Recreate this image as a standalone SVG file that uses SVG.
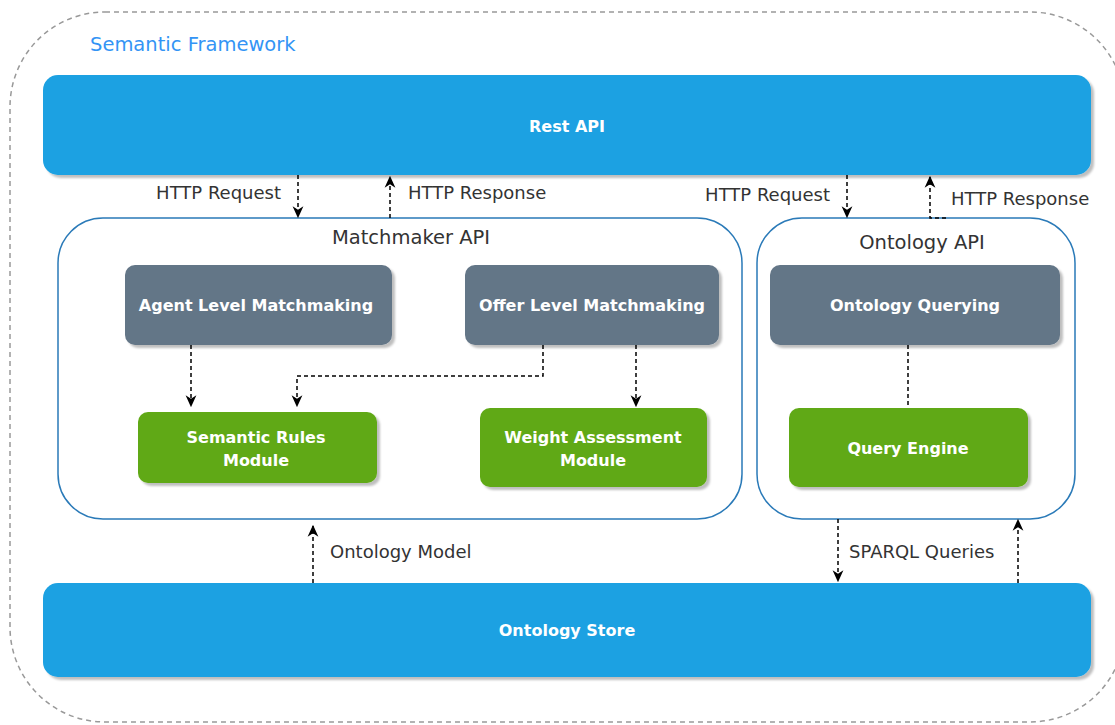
<svg xmlns="http://www.w3.org/2000/svg" width="1115" height="725" viewBox="0 0 1115 725">
<style>
  .bar { fill: #1ba1e2; }
  .gray { fill: #647687; }
  .green { fill: #60a917; }
  .cont { fill: #ffffff; stroke: #2a7ab8; stroke-width: 1.5; }
  .ntext { font-family: "DejaVu Sans", sans-serif; font-size: 16px; font-weight: bold; fill: #ffffff; text-anchor: middle; dominant-baseline: central; }
  .title { font-family: "DejaVu Sans", sans-serif; font-size: 19.5px; fill: #333333; text-anchor: middle; dominant-baseline: central; }
  .lbl { font-family: "DejaVu Sans", sans-serif; font-size: 18px; fill: #333333; dominant-baseline: central; }
  .edge { fill: none; stroke: #000000; stroke-width: 1.5; stroke-dasharray: 4 3; }
</style>
<defs>
  <filter id="sh" x="-5%" y="-10%" width="115%" height="130%">
    <feDropShadow dx="3" dy="3" stdDeviation="1.2" flood-color="#000000" flood-opacity="0.25"/>
  </filter>
  <marker id="arr" viewBox="0 0 10 10" refX="9" refY="5" markerWidth="12" markerHeight="12" markerUnits="userSpaceOnUse" orient="auto">
    <path d="M0,0.5 L10,5 L0,9.5 L3,5 z" fill="#000000"/>
  </marker>
</defs>
<rect width="1115" height="725" fill="#ffffff"/>

<g id="semantic-framework">
  <rect x="10" y="12" width="1115" height="710" rx="95" ry="95" fill="none" stroke="#999999" stroke-width="1.5" stroke-dasharray="5 4"/>
  <text x="90" y="44" font-family="DejaVu Sans, sans-serif" font-size="19.5" fill="#3394f5" dominant-baseline="central">Semantic Framework</text>
</g>

<g id="rest-api">
  <rect class="bar" x="43" y="75" width="1048" height="100" rx="15" filter="url(#sh)"/>
  <text class="ntext" x="567" y="126">Rest API</text>
</g>

<g id="matchmaker-api">
  <rect class="cont" x="58" y="218" width="684" height="301" rx="45"/>
  <text class="title" x="411" y="237">Matchmaker API</text>
</g>

<g id="ontology-api">
  <rect class="cont" x="757" y="218" width="318" height="301" rx="45"/>
  <text class="title" x="922" y="242">Ontology API</text>
</g>

<g id="agent-level">
  <rect class="gray" x="125" y="265" width="267" height="80" rx="10" filter="url(#sh)"/>
  <text class="ntext" x="256" y="305">Agent Level Matchmaking</text>
</g>

<g id="offer-level">
  <rect class="gray" x="465" y="265" width="254" height="80" rx="10" filter="url(#sh)"/>
  <text class="ntext" x="592" y="305">Offer Level Matchmaking</text>
</g>

<g id="ontology-querying">
  <rect class="gray" x="770" y="265" width="290" height="80" rx="10" filter="url(#sh)"/>
  <text class="ntext" x="915" y="305">Ontology Querying</text>
</g>

<g id="semantic-rules">
  <rect class="green" x="138" y="412" width="239" height="71" rx="10" filter="url(#sh)"/>
  <text class="ntext" x="256" y="437">Semantic Rules</text>
  <text class="ntext" x="256" y="460">Module</text>
</g>

<g id="weight-assessment">
  <rect class="green" x="480" y="408" width="227" height="79" rx="10" filter="url(#sh)"/>
  <text class="ntext" x="593" y="437">Weight Assessment</text>
  <text class="ntext" x="593" y="460">Module</text>
</g>

<g id="query-engine">
  <rect class="green" x="789" y="408" width="239" height="79" rx="10" filter="url(#sh)"/>
  <text class="ntext" x="908" y="448">Query Engine</text>
</g>

<g id="ontology-store">
  <rect class="bar" x="43" y="583" width="1048" height="94" rx="15" filter="url(#sh)"/>
  <text class="ntext" x="567" y="630">Ontology Store</text>
</g>

<g id="connectors">
  <path class="edge" d="M298,175 L298,217" marker-end="url(#arr)"/>
  <path class="edge" d="M390,218 L390,177" marker-end="url(#arr)"/>
  <path class="edge" d="M847,175 L847,217" marker-end="url(#arr)"/>
  <path class="edge" d="M946,218 L930,218 L930,177" marker-end="url(#arr)"/>
  <path class="edge" d="M191,345 L191,406" marker-end="url(#arr)"/>
  <path class="edge" d="M543,345 L543,376 L297,376 L297,406" marker-end="url(#arr)"/>
  <path class="edge" d="M636,345 L636,406" marker-end="url(#arr)"/>
  <path class="edge" d="M908,345 L908,408"/>
  <path class="edge" d="M313,583 L313,526" marker-end="url(#arr)"/>
  <path class="edge" d="M838,519 L838,581" marker-end="url(#arr)"/>
  <path class="edge" d="M1018,583 L1018,520" marker-end="url(#arr)"/>
  <text class="lbl" x="281" y="192" text-anchor="end">HTTP Request</text>
  <text class="lbl" x="408" y="192">HTTP Response</text>
  <text class="lbl" x="830" y="194" text-anchor="end">HTTP Request</text>
  <text class="lbl" x="951" y="198">HTTP Response</text>
  <text class="lbl" x="330" y="551">Ontology Model</text>
  <text class="lbl" x="849" y="551">SPARQL Queries</text>
</g>
</svg>
